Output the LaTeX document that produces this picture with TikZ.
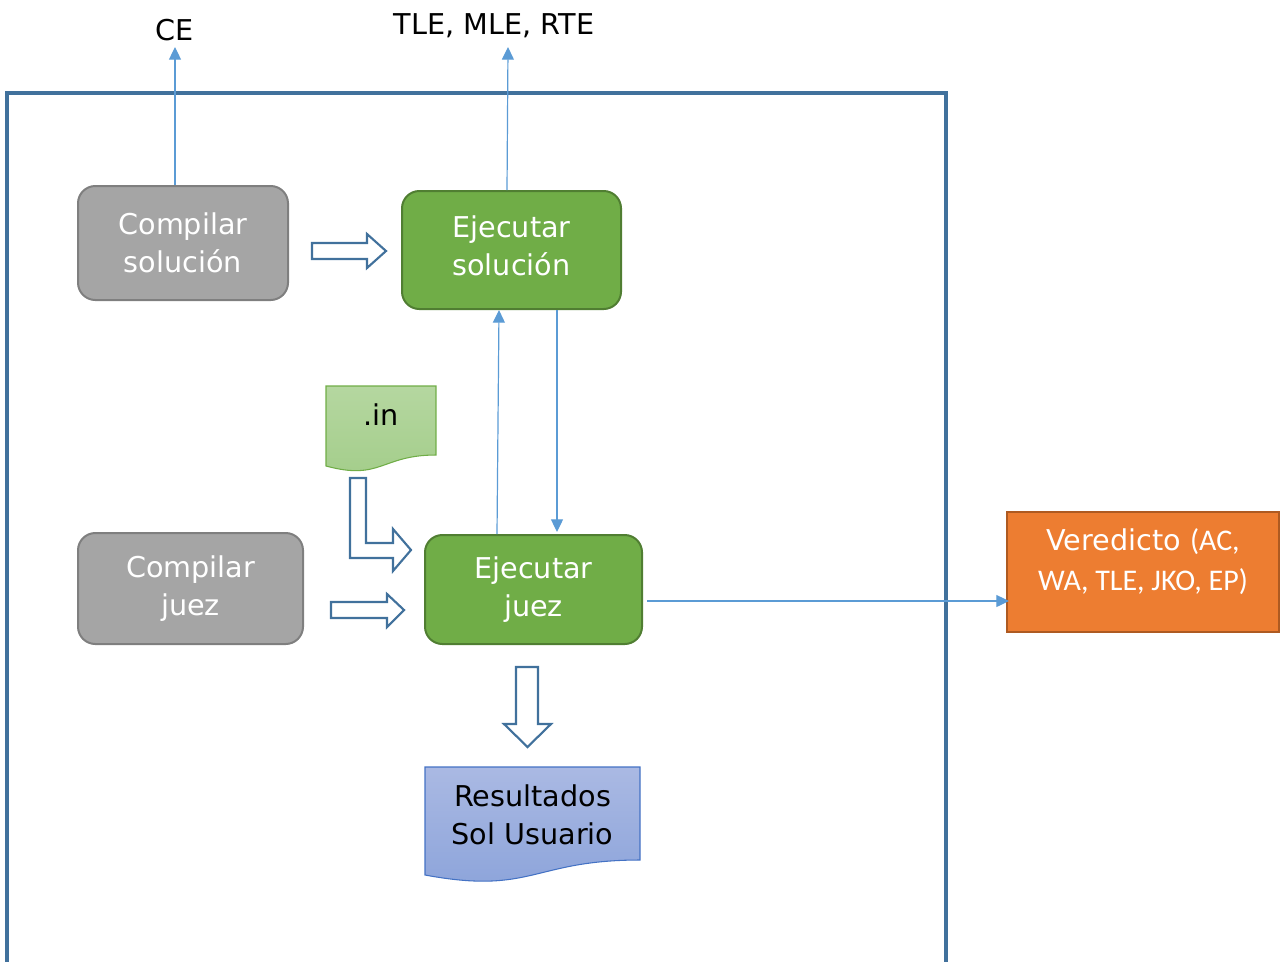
\documentclass[tikz,border=0pt]{standalone}
\usepackage{fontspec}
\setmainfont{DejaVu Sans}
\newfontfamily\calfont{Carlito}
\usetikzlibrary{arrows.meta,calc}

\definecolor{frameblue}{HTML}{41719C}
\definecolor{linkblue}{HTML}{5B9BD5}
\definecolor{grayfill}{HTML}{A5A5A5}
\definecolor{grayline}{HTML}{7F7F7F}
\definecolor{greenfill}{HTML}{70AD47}
\definecolor{greenline}{HTML}{507E32}
\definecolor{orangefill}{HTML}{ED7D31}
\definecolor{orangeline}{HTML}{AE5A21}
\definecolor{doclgtop}{HTML}{B5D7A0}
\definecolor{doclgbot}{HTML}{A3CD8A}
\definecolor{docbltop}{HTML}{AAB9E3}
\definecolor{docblbot}{HTML}{8BA3DA}
\definecolor{docblline}{HTML}{4472C4}

\tikzset{
  txt/.style={font=\fontsize{21.5}{28.5}\selectfont, align=center, inner sep=0pt},
  stepbox/.style={txt, rounded corners=13pt, line width=1.5pt, text=white},
  graybox/.style={stepbox, draw=grayline, fill=grayfill},
  greenbox/.style={stepbox, draw=greenline, fill=greenfill},
  conn/.style={draw=linkblue, line width=0.9pt, -{Triangle[length=9.5pt,width=9pt]}},
  hollow/.style={draw=frameblue, fill=white, line width=1.6pt, line join=miter},
}

\begin{document}
\begin{tikzpicture}[x=0.75pt, y=-0.75pt]
\useasboundingbox (0,0) rectangle (1280,961);

% outer frame (open at the bottom edge of the page)
\draw[frameblue, line width=2.3pt] (7,975) -- (7,93) -- (946,93) -- (946,975);

% process steps
\node[graybox, minimum width=210*0.75pt, minimum height=114*0.75pt] (cs) at (183,243) {Compilar\\solución};
\node[greenbox, minimum width=219*0.75pt, minimum height=118*0.75pt] (es) at (511.5,250) {};
\node[txt, text=white] (estext) at ($(es.center)+(0,-4)$) {Ejecutar\\solución};
\node[graybox, minimum width=225*0.75pt, minimum height=111*0.75pt] (cj) at (190.5,588.5) {Compilar\\juez};
\node[greenbox, minimum width=217*0.75pt, minimum height=109*0.75pt] (ej) at (533.5,589.5) {Ejecutar\\juez};
\node[draw=orangeline, fill=orangefill, line width=1.5pt, inner sep=0pt,
      minimum width=272*0.75pt, minimum height=120*0.75pt] (ver) at (1143,572) {};
\node[txt, text=white, font=\fontsize{21.5}{30}\selectfont] (vertext) at ($(ver.center)+(0,-10)$)
      {Veredicto {\calfont\fontsize{22.5}{30}\selectfont (AC,}\\{\calfont\fontsize{22.5}{30}\selectfont WA, TLE, JKO, EP)}};

% output labels at the top
\node[txt] (ce) at (175,30) {CE};
\node[txt] (tle) at (494,26) {TLE, MLE, RTE};
\coordinate (ceend) at (175,47);
\coordinate (tleend) at (508,47);

% input document
\path[top color=doclgtop, bottom color=doclgbot, draw=greenfill, line width=0.8pt]
  (326,386) -- (436,386) -- (436,455)
  .. controls (381,455) and (381,481) .. (326,466) -- cycle;
\node[txt] (in) at (381,415) {.in};

% results document
\path[top color=docbltop, bottom color=docblbot, draw=docblline, line width=0.8pt]
  (425,767) -- (640,767) -- (640,860)
  .. controls (532.5,860) and (532.5,895) .. (425,875) -- cycle;
\node[txt] (res) at (532.5,815) {Resultados\\Sol Usuario};

% block arrows
\draw[hollow] (312,243) -- (367,243) -- (367,234) -- (386,251) -- (367,268) -- (367,259) -- (312,259) -- cycle;
\draw[hollow] (331,602) -- (387,602) -- (387,594) -- (404,610) -- (387,627) -- (387,618) -- (331,618) -- cycle;
\draw[hollow] (350,478) -- (366,478) -- (366,543) -- (393,543) -- (393,529) -- (411,550)
  -- (393,571) -- (393,558) -- (350,558) -- cycle;
\draw[hollow] (516,667) -- (538,667) -- (538,724) -- (551,724) -- (527.5,747) -- (504,724) -- (516,724) -- cycle;

% flow connectors
\draw[conn] (ce |- cs.north) -- (ceend);
\draw[conn] ($(es.north west)+(106,0)$) -- (tleend);
\draw[conn] ($(ej.north west)+(73,0)$) -- ($(es.south west)+(98,0)$);
\draw[conn] ($(es.south west)+(156,0)$) -- ($(ej.north west)+(133,-2)$);
\coordinate (vy) at (0,601);
\draw[conn] ($(ej.east |- vy)+(4,0)$) -- ($(ver.west |- vy)+(3,0)$);
\end{tikzpicture}
\end{document}
